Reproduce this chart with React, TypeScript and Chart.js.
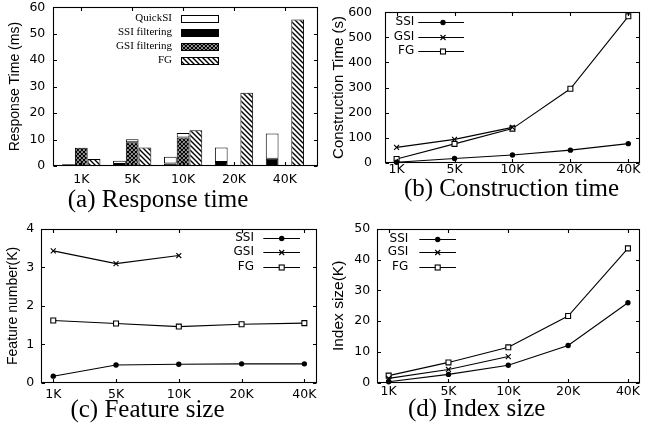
import React, { useEffect, useRef } from "react";
import { Chart, registerables } from "chart.js";

Chart.register(...registerables);

// ---------------- data ----------------
const sizes = ["1K", "5K", "10K", "20K", "40K"];

// (a) response time (ms), stacked segments
const ssiFiltering = [0.7, 0.8, 0.9, 1.5, 2.7];
const quickSIAfterSSI = [0.1, 1.2, 2.6, 5.5, 9.6];
const gsiFiltering = [6.9, 9.0, 10.8, null, null];
const quickSIAfterGSI = [0, 1.1, 1.7, null, null];
const fgResponse = [2.6, 7.0, 13.5, 27.7, 55.4];
const legendA = ["QuickSI", "SSI filtering", "GSI filtering", "FG"];

// (b) construction time (s)
const ssiConstruction = [2, 17, 31, 50, 76];
const gsiConstruction = [61, 93, 141];
const fgConstruction = [15, 75, 136, 295, 584];

// (c) feature number (K)
const ssiFeatures = [0.17, 0.46, 0.48, 0.49, 0.49];
const gsiFeatures = [3.43, 3.1, 3.31];
const fgFeatures = [1.62, 1.54, 1.46, 1.52, 1.55];

// (d) index size (K)
const ssiIndex = [0.3, 2.7, 5.7, 12.1, 26.0];
const gsiIndex = [1.4, 4.3, 8.5];
const fgIndex = [2.3, 6.6, 11.5, 21.7, 43.7];

const seriesNames = ["SSI", "GSI", "FG"];
const captions = ["(a) Response time", "(b) Construction time", "(c) Feature size", "(d) Index size"];

// ---------------- styling helpers ----------------
const TICK_FONT = { family: "DejaVu Sans", size: 12.5 };
const TITLE_FAMILY = "Liberation Sans";
const TICK_LEN = 3.5;
const LINE_W = 1.1;

const pts = (arr: (number | null)[]) => arr.map((y, i) => ({ x: i, y }));

function makePattern(kind: "cross" | "hatch"): any {
  const c = document.createElement("canvas");
  const n = kind === "cross" ? 4 : 5;
  c.width = n;
  c.height = n;
  const g = c.getContext("2d");
  if (!g) return "#888";
  g.fillStyle = "#fff";
  g.fillRect(0, 0, n, n);
  g.strokeStyle = "#000";
  g.lineWidth = kind === "cross" ? 1.4 : 1.4;
  g.beginPath();
  g.moveTo(-1, -1);
  g.lineTo(n + 1, n + 1);
  g.moveTo(-1, n - 1);
  g.lineTo(1, n + 1);
  g.moveTo(n - 1, -1);
  g.lineTo(n + 1, 1);
  if (kind === "cross") {
    g.moveTo(n + 1, -1);
    g.lineTo(-1, n + 1);
    g.moveTo(1, -1);
    g.lineTo(-1, 1);
    g.moveTo(n + 1, n - 1);
    g.lineTo(n - 1, n + 1);
  }
  g.stroke();
  return g.createPattern(c, "repeat") || "#888";
}

function drawMarker(ctx: CanvasRenderingContext2D, style: string, x: number, y: number) {
  ctx.save();
  ctx.strokeStyle = "#000";
  ctx.lineWidth = LINE_W;
  ctx.beginPath();
  if (style === "circle") {
    ctx.arc(x, y, 2.7, 0, Math.PI * 2);
    ctx.fillStyle = "#000";
    ctx.fill();
  } else if (style === "crossRot") {
    const r = 2.5;
    ctx.moveTo(x - r, y - r);
    ctx.lineTo(x + r, y + r);
    ctx.moveTo(x + r, y - r);
    ctx.lineTo(x - r, y + r);
    ctx.stroke();
  } else {
    const s = 2.5;
    ctx.fillStyle = "#fff";
    ctx.fillRect(x - s, y - s, 2 * s, 2 * s);
    ctx.strokeRect(x - s, y - s, 2 * s, 2 * s);
  }
  ctx.restore();
}

function framePlugin(drawLegend: (chart: any) => void) {
  return {
    id: "gnuFrame",
    afterDraw(chart: any) {
      const { ctx, chartArea: a, scales } = chart;
      ctx.save();
      ctx.strokeStyle = "#000";
      ctx.lineWidth = LINE_W;
      const l = Math.round(a.left) + 0.5;
      const r = Math.round(a.right) - 0.5;
      const t = Math.round(a.top) + 0.5;
      const b = Math.round(a.bottom) - 0.5;
      ctx.beginPath();
      scales.x.ticks.forEach((tk: any) => {
        const px = Math.round(scales.x.getPixelForValue(tk.value)) + 0.5;
        ctx.moveTo(px, b);
        ctx.lineTo(px, b - TICK_LEN);
        ctx.moveTo(px, t);
        ctx.lineTo(px, t + TICK_LEN);
      });
      scales.y.ticks.forEach((tk: any) => {
        const py = Math.round(scales.y.getPixelForValue(tk.value)) + 0.5;
        ctx.moveTo(l, py);
        ctx.lineTo(l + TICK_LEN, py);
        ctx.moveTo(r, py);
        ctx.lineTo(r - TICK_LEN, py);
      });
      ctx.stroke();
      ctx.strokeRect(l, t, r - l, b - t);
      ctx.restore();
      drawLegend(chart);
    },
  };
}

function lineLegend(cfg: { textRight: number; lineStart: number; lineEnd: number; markerX: number; rows: number[] }) {
  return (chart: any) => {
    const ctx: CanvasRenderingContext2D = chart.ctx;
    chart.data.datasets.forEach((ds: any, i: number) => {
      const y = cfg.rows[i];
      ctx.save();
      ctx.fillStyle = "#000";
      ctx.font = "12px 'DejaVu Sans'";
      ctx.textAlign = "right";
      ctx.textBaseline = "middle";
      ctx.fillText(ds.label, cfg.textRight, y);
      ctx.strokeStyle = "#000";
      ctx.lineWidth = LINE_W;
      ctx.beginPath();
      ctx.moveTo(cfg.lineStart, Math.round(y) + 0.5);
      ctx.lineTo(cfg.lineEnd, Math.round(y) + 0.5);
      ctx.stroke();
      ctx.restore();
      drawMarker(ctx, ds.pointStyle, cfg.markerX, Math.round(y) + 0.5);
    });
  };
}

function xAxis(min: number, max: number, height: number, pad: number, stacked = false) {
  return {
    type: "linear",
    stacked,
    offset: false,
    min,
    max,
    afterBuildTicks: (axis: any) => {
      axis.ticks = sizes.map((_, i) => ({ value: i }));
    },
    ticks: {
      callback: (v: any) => sizes[v] ?? "",
      font: TICK_FONT,
      color: "#000",
      padding: pad,
      autoSkip: false,
      maxRotation: 0,
    },
    grid: { display: false, drawTicks: false },
    border: { display: false },
    afterFit: (s: any) => {
      s.height = height;
      s.paddingLeft = 0;
      s.paddingRight = 0;
    },
  };
}

function yAxis(max: number, step: number, width: number, pad: number, title: string, titleSize: number, titlePad: number, stacked = false) {
  return {
    stacked,
    min: 0,
    max,
    ticks: { stepSize: step, font: TICK_FONT, color: "#000", padding: pad },
    grid: { display: false, drawTicks: false },
    border: { display: false },
    title: {
      display: true,
      text: title,
      color: "#000",
      font: { family: TITLE_FAMILY, size: titleSize },
      padding: { top: titlePad, bottom: 0 },
    },
    afterFit: (s: any) => {
      s.width = width;
      s.paddingTop = 0;
      s.paddingBottom = 0;
    },
  };
}

function lineDatasets(ssi: number[], gsi: number[], fg: number[]) {
  const base = { borderColor: "#000", borderWidth: LINE_W, tension: 0, clip: false, pointBorderColor: "#000" };
  return [
    { ...base, label: seriesNames[0], data: pts(ssi), pointStyle: "circle", pointRadius: 2.7, pointBackgroundColor: "#000", pointBorderWidth: 0 },
    { ...base, label: seriesNames[1], data: pts(gsi), pointStyle: "crossRot", pointRadius: 3.5, pointBorderWidth: LINE_W },
    { ...base, label: seriesNames[2], data: pts(fg), pointStyle: "rect", pointRadius: 3.5, pointBackgroundColor: "#fff", pointBorderWidth: LINE_W },
  ];
}

const commonOpts = {
  animation: false,
  responsive: false,
  events: [],
  plugins: { legend: { display: false }, tooltip: { enabled: false } },
};

// ---------------- chart builders ----------------
function buildA(): any {
  const cross = makePattern("cross");
  const hatch = makePattern("hatch");
  const fills = ["#fff", "#000", cross, hatch];
  const legend = (chart: any) => {
    const ctx: CanvasRenderingContext2D = chart.ctx;
    const rows = [18, 32, 46.5, 60.5];
    legendA.forEach((lab, i) => {
      ctx.save();
      ctx.fillStyle = "#000";
      ctx.font = "11px 'Liberation Serif'";
      ctx.textAlign = "right";
      ctx.textBaseline = "middle";
      ctx.fillText(lab, 172, rows[i]);
      ctx.fillStyle = fills[i];
      const y0 = Math.round(rows[i] - 3.5) + 0.5;
      ctx.fillRect(181.5, y0, 37, 7);
      ctx.strokeStyle = "#000";
      ctx.lineWidth = 1;
      ctx.strokeRect(181.5, y0, 37, 7);
      ctx.restore();
    });
  };
  const barBase = { borderColor: "#000", borderWidth: 1, borderSkipped: false, categoryPercentage: 0.752, barPercentage: 1 };
  return {
    type: "bar",
    data: {
      datasets: [
        { ...barBase, label: legendA[1], stack: "ssi", data: pts(ssiFiltering), backgroundColor: "#000" },
        { ...barBase, label: legendA[0], stack: "ssi", data: pts(quickSIAfterSSI), backgroundColor: "#fff" },
        { ...barBase, label: legendA[2], stack: "gsi", data: pts(gsiFiltering), backgroundColor: cross },
        { ...barBase, label: legendA[0], stack: "gsi", data: pts(quickSIAfterGSI), backgroundColor: "#fff" },
        { ...barBase, label: legendA[3], stack: "fg", data: pts(fgResponse), backgroundColor: hatch },
      ],
    },
    options: {
      ...commonOpts,
      layout: { padding: { left: 0, right: 4, top: 7.3, bottom: 0 } },
      scales: {
        x: xAxis(-0.55, 4.65, 51, 6.5, true),
        y: yAxis(60, 10, 53.3, 8, "Response Time (ms)", 14, 6.6, true),
      },
    },
    plugins: [framePlugin(legend)],
  };
}

function buildB(): any {
  return {
    type: "line",
    data: { datasets: lineDatasets(ssiConstruction, gsiConstruction, fgConstruction) },
    options: {
      ...commonOpts,
      layout: { padding: { left: 0, right: 2.7, top: 12.3, bottom: 0 } },
      scales: {
        x: xAxis(-0.2, 4.2, 54.3, -0.2),
        y: yAxis(600, 100, 63, 13, "Construction Time (s)", 15, 8),
      },
    },
    plugins: [framePlugin(lineLegend({ textRight: 92.3, lineStart: 96.3, lineEnd: 142, markerX: 121, rows: [22, 36.5, 51] }))],
  };
}

function buildC(): any {
  return {
    type: "line",
    data: { datasets: lineDatasets(ssiFeatures, gsiFeatures, fgFeatures) },
    options: {
      ...commonOpts,
      layout: { padding: { left: 0, right: 4, top: 12, bottom: 0 } },
      scales: {
        x: xAxis(-0.2, 4.2, 51.3, 4.3),
        y: yAxis(4, 1, 40.7, 6.5, "Feature number(K)", 14, 4.6),
      },
    },
    plugins: [framePlugin(lineLegend({ textRight: 254, lineStart: 263.3, lineEnd: 300, markerX: 281.7, rows: [21.3, 35.3, 50.3] }))],
  };
}

function buildD(): any {
  return {
    type: "line",
    data: { datasets: lineDatasets(ssiIndex, gsiIndex, fgIndex) },
    options: {
      ...commonOpts,
      layout: { padding: { left: 0, right: 1.2, top: 12, bottom: 0 } },
      scales: {
        x: xAxis(-0.2, 4.2, 51.3, 1.5),
        y: yAxis(50, 10, 54.7, 6.5, "Index size(K)", 15.5, 7.7),
      },
    },
    plugins: [framePlugin(lineLegend({ textRight: 86.3, lineStart: 97.3, lineEnd: 134, markerX: 115.7, rows: [22, 35.3, 49.7] }))],
  };
}

// ---------------- components ----------------
function Panel(props: { left: number; top: number; width: number; height: number; build: () => any }) {
  const ref = useRef<HTMLCanvasElement>(null);
  useEffect(() => {
    if (!ref.current) return;
    const chart = new Chart(ref.current, props.build());
    return () => chart.destroy();
  }, []);
  return (
    <canvas
      ref={ref}
      width={props.width}
      height={props.height}
      style={{ position: "absolute", left: props.left, top: props.top, width: props.width, height: props.height }}
    />
  );
}

function Caption(props: { cx: number; cy: number; text: string }) {
  return (
    <div
      style={{
        position: "absolute",
        left: props.cx - 160,
        width: 320,
        top: props.cy - 15.2,
        textAlign: "center",
        fontFamily: "'Liberation Serif', serif",
        fontSize: 25,
        lineHeight: "25px",
        whiteSpace: "nowrap",
        color: "#000",
      }}
    >
      {props.text}
    </div>
  );
}

export default function App() {
  return (
    <div style={{ position: "fixed", left: 0, top: 0, width: 645, height: 434, background: "#fff", overflow: "hidden" }}>
      <Panel left={0} top={0} width={322} height={217} build={buildA} />
      <Panel left={322} top={0} width={323} height={217} build={buildB} />
      <Panel left={0} top={217} width={322} height={217} build={buildC} />
      <Panel left={322} top={217} width={323} height={217} build={buildD} />
      <Caption cx={158} cy={201} text={captions[0]} />
      <Caption cx={511.5} cy={190} text={captions[1]} />
      <Caption cx={147.5} cy={411} text={captions[2]} />
      <Caption cx={476.7} cy={410} text={captions[3]} />
    </div>
  );
}
